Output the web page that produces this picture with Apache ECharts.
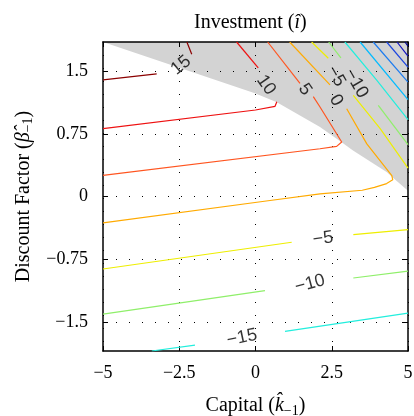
<!DOCTYPE html>
<html><head><meta charset="utf-8">
<script src="https://cdn.jsdelivr.net/npm/echarts@6/dist/echarts.min.js"></script>
<style>html,body{margin:0;padding:0;background:#fff}#c{width:414px;height:416px}</style>
</head><body><div id="c"></div>
<script>
// ---- data ----
const xTicks = [-5, -2.5, 0, 2.5, 5];
const yTicks = [-1.5, -0.75, 0, 0.75, 1.5];
const xRange = [-5, 5];
const yRange = [-1.85, 1.85];
const levels = [15, 10, 5, 0, -5, -10, -15, -20, -25, -30, -35, -40];

// lower edge of the shaded region (shaded above this edge)
const shadedEdge = [[-5, 1.85], [-2.74, 1.572], [-0.02, 1.236], [0.70, 1.128], [2.115, 0.832],
  [2.836, 0.648], [3.197, 0.552], [4.311, 0.29], [4.508, 0.225], [5, 0.07]];

// contour segments per level
const seg15 = [[[-5, 1.396], [-3.24, 1.468]], [[-2.09, 1.704], [-2.25, 1.85]]];
const seg10 = [[[-5, 0.812], [0, 1.036], [0.64, 1.08], [0.70, 1.134]], [[0.09, 1.54], [-0.62, 1.85]]];
const seg5 = [[[-5, 0.252], [2.115, 0.572], [2.66, 0.60], [2.826, 0.652], [2.115, 1.072], [1.895, 1.196]],
  [[1.459, 1.356], [0.40, 1.85]]];
const seg0 = [[[-5, -0.316], [0.475, -0.048], [2.115, 0.032], [3.5, 0.075], [3.9, 0.11], [4.3, 0.155],
  [4.5, 0.2], [4.47, 0.25], [3.65, 0.63], [2.99, 1.05]], [[2.443, 1.336], [1.12, 1.85]]];
const segM5 = [[[-5, -0.868], [1.187, -0.548]], [[3.207, -0.456], [5, -0.396]],
  [[1.84, 1.85], [2.387, 1.656]], [[3.207, 1.212], [4.082, 0.816], [5, 0.34]]];
const segM10 = [[[-5, -1.408], [0.311, -1.128]], [[3.207, -0.976], [5, -0.894]],
  [[2.40, 1.85], [2.80, 1.66]], [[4.026, 1.092], [5, 0.62]]];
const segM15 = [[[-3.40, -1.85], [-1.984, -1.78]], [[0.967, -1.616], [5, -1.397]],
  [[2.93, 1.85], [3.98, 1.39], [5, 0.92]]];
const segM20 = [[[3.43, 1.85], [5, 1.16]]];
const segM25 = [[[3.86, 1.85], [5, 1.37]]];
const segM30 = [[[4.30, 1.85], [5, 1.55]]];
const segM35 = [[[4.64, 1.85], [5, 1.68]]];
const segM40 = [[[4.90, 1.85], [5, 1.80]]];
const segments = [seg15, seg10, seg5, seg0, segM5, segM10, segM15, segM20, segM25, segM30, segM35, segM40];

// contour labels
const labelText = ['15', '10', '5', '\u22125', '0', '\u221210', '\u22125', '\u221210', '\u221215'];
const labelPos = [[-2.44, 1.57], [0.344, 1.335], [1.623, 1.28], [2.64, 1.44], [2.64, 1.15], [3.30, 1.355],
  [2.213, -0.505], [1.787, -1.045], [-0.443, -1.69]];
const labelAngle = [40, -55, -55, -60, -60, -60, 8, 15, 12];

// ---- styles ----
const levelColors = ['#8b0000', '#ee1111', '#ff5520', '#ffaa00', '#eeee00', '#8fef6a', '#22eedd',
  '#00bbff', '#1c7bef', '#1a44e0', '#1010c0', '#000090'];
const serif = 'Liberation Serif';
const minus = v => (v < 0 ? '\u2212' + Math.abs(v) : String(v));

const series = [];
series.push({
  type: 'line', data: shadedEdge, symbol: 'none', silent: true, z: -1,
  lineStyle: { width: 0 }, areaStyle: { color: '#d3d3d3', opacity: 1, origin: 'end' }
});
segments.forEach((segs, i) => {
  segs.forEach(s => {
    series.push({
      type: 'line', data: s, symbol: 'none', silent: true, z: 3,
      lineStyle: { color: levelColors[i], width: 1.2 }
    });
  });
});
series.push({
  type: 'scatter', symbolSize: 0, silent: true, z: 4,
  data: labelPos.map((p, i) => ({ value: p, label: { formatter: labelText[i], rotate: labelAngle[i] } })),
  label: { show: true, position: 'inside', fontFamily: 'Liberation Sans', fontSize: 18, color: '#000' }
});

const rich = {
  n: { fontFamily: serif, fontWeight: 'normal', fontSize: 20, color: '#000', lineHeight: 24 },
  i: { fontFamily: serif, fontWeight: 'normal', fontStyle: 'italic', fontSize: 20, color: '#000', lineHeight: 24 },
  s: { fontFamily: serif, fontWeight: 'normal', fontSize: 14, color: '#000', lineHeight: 14, verticalAlign: 'bottom' }
};
const tickStyle = { inside: true, length: 5, lineStyle: { color: '#000', width: 1 } };
const lineStyle = { show: true, onZero: false, lineStyle: { color: '#000', width: 1.5 } };
const dotted = { show: true, lineStyle: { type: [1, 12], color: '#000', width: 1 } };

const chart = echarts.init(document.getElementById('c'), null, { renderer: 'canvas' });
chart.setOption({
  animation: false,
  backgroundColor: '#fff',
  title: {
    text: '{n|Investment (}{i|\u00ee}{n|)}', left: 189, top: 6,
    textStyle: { fontWeight: 'normal', rich }
  },
  grid: { left: 103, right: 6, top: 42, bottom: 65, containLabel: false, outerBoundsMode: 'none' },
  xAxis: [{
    type: 'value', min: xRange[0], max: xRange[1], interval: 2.5, position: 'bottom', z: 1,
    axisLine: lineStyle, axisTick: tickStyle, splitLine: dotted,
    axisLabel: { formatter: minus, fontFamily: serif, fontSize: 18, color: '#000', margin: 13,
      customValues: xTicks },
    name: '{n|Capital (}{i|k\u0302}{s|\u22121}{n|)}', nameLocation: 'middle', nameGap: 43,
    nameTextStyle: { rich }
  }, {
    type: 'value', min: xRange[0], max: xRange[1], interval: 2.5, position: 'top', z: 1,
    axisLine: lineStyle, axisTick: tickStyle, splitLine: { show: false }, axisLabel: { show: false }
  }],
  yAxis: [{
    type: 'value', min: yRange[0], max: yRange[1], position: 'left', z: 1,
    axisLine: lineStyle, axisTick: Object.assign({ customValues: yTicks }, tickStyle), splitLine: dotted,
    axisLabel: { formatter: minus, fontFamily: serif, fontSize: 18, color: '#000', margin: 15,
      customValues: yTicks },
    name: '{n|Discount Factor (}{i|\u03b2\u0302}{s|\u22121}{n|)}', nameLocation: 'middle', nameGap: 64,
    nameTextStyle: { rich }
  }, {
    type: 'value', min: yRange[0], max: yRange[1], position: 'right', z: 1,
    axisLine: lineStyle, axisTick: Object.assign({ customValues: yTicks }, tickStyle),
    splitLine: { show: false }, axisLabel: { show: false }
  }],
  series
});
</script></body></html>
